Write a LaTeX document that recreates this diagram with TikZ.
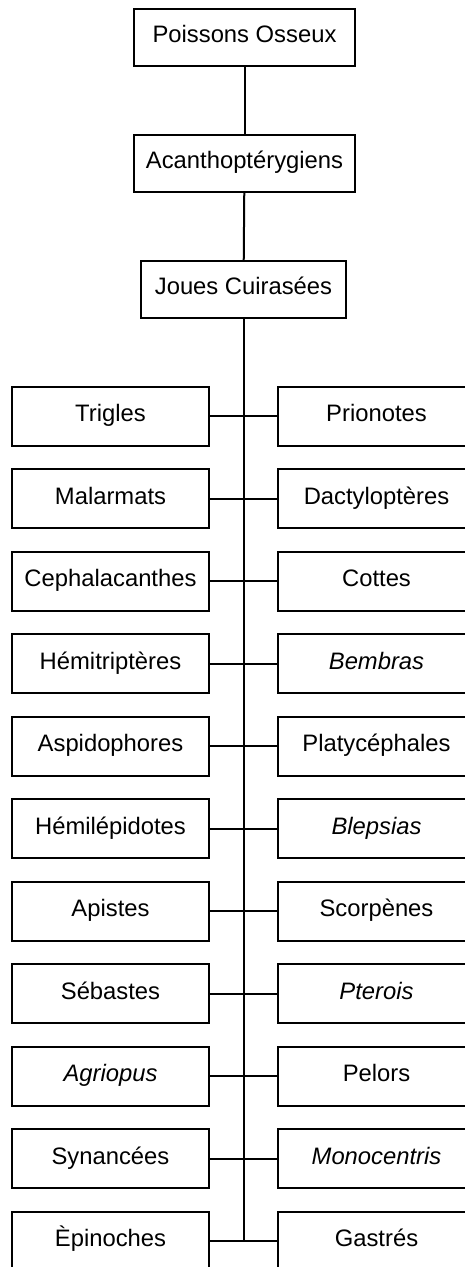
\documentclass[tikz,border=0pt]{standalone}
\usepackage{fontspec}
\setmainfont{Liberation Sans}
\usepackage{tikz}

\begin{document}
\begin{tikzpicture}[
    x=0.5pt, y=0.5pt,
    taxon/.style={draw, line width=1pt, align=center, minimum width=110.5pt, minimum height=28.5pt, inner sep=0pt, text height=0.75em, text depth=0.2em, font=\fontsize{11.9}{14}\selectfont},
    genus/.style={draw, line width=1pt, align=center, minimum width=98.5pt, minimum height=29.5pt, inner sep=0pt, text height=0.75em, text depth=0.2em, font=\fontsize{11.9}{14}\selectfont},
    link/.style={line width=1pt}
  ]
    \useasboundingbox (0,0) rectangle (465,1267);

    \node[taxon] (osseux)  at (244.5,1229.5) {Poissons Osseux};
    \node[taxon] (acanth)  at (244.5,1103.5) {Acanthoptérygiens};
    \node[taxon, minimum width=102.5pt] (joues) at (243.5,977.5) {Joues Cuirasées};

    \node[genus] (trigles)  at (110.5,850.5) {Trigles};
    \node[genus] (prionot)  at (376.5,850.5) {Prionotes};
    \node[genus] (malarm)   at (110.5,768.0) {Malarmats};
    \node[genus] (dactyl)   at (376.5,768.0) {Dactyloptères};
    \node[genus] (cephal)   at (110.5,685.5) {Cephalacanthes};
    \node[genus] (cottes)   at (376.5,685.5) {Cottes};
    \node[genus] (hemitri)  at (110.5,603.0) {Hémitriptères};
    \node[genus] (bembras)  at (376.5,603.0) {\itshape Bembras};
    \node[genus] (aspido)   at (110.5,520.5) {Aspidophores};
    \node[genus] (platy)    at (376.5,520.5) {Platycéphales};
    \node[genus] (hemilep)  at (110.5,438.0) {Hémilépidotes};
    \node[genus] (blepsias) at (376.5,438.0) {\itshape Blepsias};
    \node[genus] (apistes)  at (110.5,355.5) {Apistes};
    \node[genus] (scorpen)  at (376.5,355.5) {Scorpènes};
    \node[genus] (sebast)   at (110.5,273.0) {Sébastes};
    \node[genus] (pterois)  at (376.5,273.0) {\itshape Pterois};
    \node[genus] (agriop)   at (110.5,190.5) {\itshape Agriopus};
    \node[genus] (pelors)   at (376.5,190.5) {Pelors};
    \node[genus] (synanc)   at (110.5,108.0) {Synancées};
    \node[genus] (monoc)    at (376.5,108.0) {\itshape Monocentris};
    \node[genus] (epinoch)  at (110.5,25.5)  {Èpinoches};
    \node[genus] (gastres)  at (376.5,25.5)  {Gastrés};

    \coordinate (trunkend) at (244,25.5);

    \draw[link] (osseux) -- (acanth);
    \draw[link] (acanth) -- (joues);
    \draw[link] (joues.south -| trunkend) -- (trunkend);
    \draw[link] (trigles) -- (prionot);
    \draw[link] (malarm) -- (dactyl);
    \draw[link] (cephal) -- (cottes);
    \draw[link] (hemitri) -- (bembras);
    \draw[link] (aspido) -- (platy);
    \draw[link] (hemilep) -- (blepsias);
    \draw[link] (apistes) -- (scorpen);
    \draw[link] (sebast) -- (pterois);
    \draw[link] (agriop) -- (pelors);
    \draw[link] (synanc) -- (monoc);
    \draw[link] (epinoch) -- (gastres);
  \end{tikzpicture}
\end{document}
